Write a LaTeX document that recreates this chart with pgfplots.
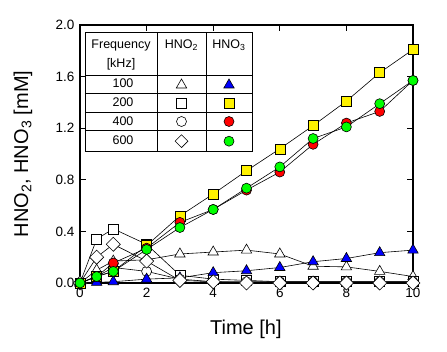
\documentclass[border=0pt]{standalone}
\usepackage{fontspec}
\setmainfont{Liberation Sans}
\usepackage{pgfplots}
\usepackage{pgfplotstable}
\pgfplotsset{compat=1.18}
\usetikzlibrary{shapes.geometric}

\pgfplotstableread{
t    tri   sq    ci    di    bl     ye    re     gr
0    0     0     0     0     0      0     0      0
0.5  0.10  0.34  0.05  0.20  0.005  0.05  0.05   0.05
1    0.17  0.42  0.12  0.30  0.01   0.09  0.155  0.09
2    0.18  0.30  0.09  0.17  0.03   0.29  0.27   0.26
3    0.225 0.06  0.03  0.02  0.04   0.52  0.47   0.43
4    0.24  0.03  0.01  0.01  0.08   0.69  0.57   0.57
5    0.255 0.02  0.01  0.00  0.095  0.87  0.72   0.735
6    0.225 0.01  0.01  0.00  0.12   1.04  0.86   0.90
7    0.13  0.01  0.01  0.00  0.165  1.22  1.075  1.12
8    0.125 0.01  0.01  0.00  0.19   1.41  1.24   1.21
9    0.09  0.01  0.01  0.00  0.235  1.63  1.33   1.39
10   0.05  0.01  0.01  0.00  0.255  1.81  1.57   1.57
}\data

\begin{document}
\begin{tikzpicture}[x=1pt,y=1pt]
\useasboundingbox (-80,-68) rectangle (367,283);
\begin{axis}[
  at={(0,0)}, anchor=south west,
  scale only axis, width=333pt, height=258pt,
  xmin=0, xmax=10, ymin=0, ymax=2,
  clip=false,
  xtick={0,2,4,6,8,10},
  ytick={0,0.4,0.8,1.2,1.6,2.0},
  yticklabel style={/pgf/number format/fixed, /pgf/number format/fixed zerofill, /pgf/number format/precision=1, xshift=-2pt},
  /pgf/number format/assume math mode=true,
  tick label style={font=\fontsize{13.5}{15}\selectfont},
  xticklabel style={yshift=-2pt},
  tick align=inside,
  major tick length=6pt,
  tick style={black, line width=0.8pt},
  axis line style={line width=2.5pt},
  xlabel={Time [h]},
  ylabel={HNO\textsubscript{2}, HNO\textsubscript{3} [mM]},
  label style={font=\fontsize{20}{24}\selectfont},
  xlabel style={at={(axis description cs:0.498,-0.178)}, anchor=center},
  ylabel style={at={(axis description cs:-0.171,0.5)}, anchor=center},
  every axis plot/.append style={black, line width=0.6pt},
]
\addplot[mark=triangle*, mark size=6pt, mark options={fill=white, line width=0.6pt}] table[x=t,y=tri] {\data};
\addplot[mark=square*, mark size=5pt, mark options={fill=white, line width=0.6pt}] table[x=t,y=sq] {\data};
\addplot[mark=*, mark size=5pt, mark options={fill=white, line width=0.6pt}] table[x=t,y=ci] {\data};
\addplot[mark=triangle*, mark size=6pt, mark options={fill=blue, line width=0.6pt}] table[x=t,y=bl] {\data};
\addplot[mark=square*, mark size=5pt, mark options={fill=white, rotate=45, line width=0.6pt}] table[x=t,y=di] {\data};
\addplot[mark=square*, mark size=5pt, mark options={fill=yellow, line width=0.6pt}] table[x=t,y=ye] {\data};
\addplot[mark=*, mark size=5pt, mark options={fill=red, line width=0.6pt}] table[x=t,y=re] {\data};
\addplot[mark=*, mark size=5pt, mark options={fill=green, line width=0.6pt}] table[x=t,y=gr] {\data};
\end{axis}
% legend table
\fill[white] (5,131.3) rectangle (172,251);
\draw[line width=0.8pt] (5,131.3) rectangle (172,251);
\draw[line width=0.8pt] (77,131.3) -- (77,251);
\draw[line width=0.8pt] (126,131.3) -- (126,251);
\foreach \yy in {208,189.3,170.7,152.3} \draw[line width=0.8pt] (5,\yy) -- (172,\yy);
\begin{scope}[every node/.style={font=\fontsize{12.5}{14}\selectfont, inner sep=0pt}]
\node at (41,238) {Frequency};
\node at (41,219) {[kHz]};
\node at (101.5,238) {HNO\textsubscript{2}};
\node at (149,238) {HNO\textsubscript{3}};
\node at (43,199.5) {100};
\node at (43,180.5) {200};
\node at (43,162) {400};
\node at (43,142.5) {600};
\end{scope}
\node[draw, line width=0.6pt, fill=white, regular polygon, regular polygon sides=3, minimum size=12pt, inner sep=0pt] at (101.5,198) {};
\node[draw, line width=0.6pt, fill=blue, regular polygon, regular polygon sides=3, minimum size=12pt, inner sep=0pt] at (149,198) {};
\node[draw, line width=0.6pt, fill=white, minimum size=10pt, inner sep=0pt] at (101.5,180) {};
\node[draw, line width=0.6pt, fill=yellow, minimum size=10pt, inner sep=0pt] at (149,180) {};
\node[draw, line width=0.6pt, fill=white, circle, minimum size=10pt, inner sep=0pt] at (101.5,161.5) {};
\node[draw, line width=0.6pt, fill=red, circle, minimum size=10pt, inner sep=0pt] at (149,161.5) {};
\node[draw, line width=0.6pt, fill=white, diamond, minimum width=13pt, minimum height=13pt, inner sep=0pt] at (101.5,141.8) {};
\node[draw, line width=0.6pt, fill=green, circle, minimum size=10pt, inner sep=0pt] at (149,141.8) {};
\end{tikzpicture}
\end{document}
